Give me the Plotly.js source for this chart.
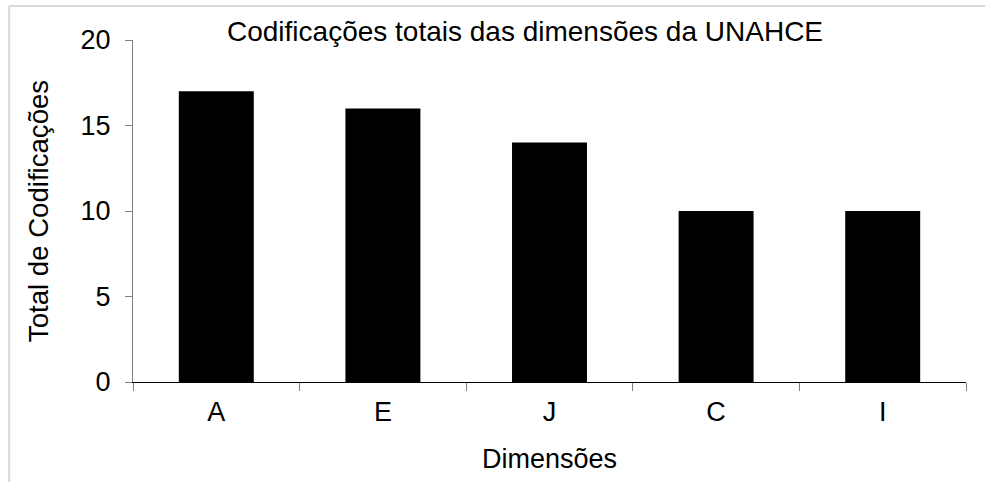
<!DOCTYPE html>
<html>
<head>
<meta charset="utf-8">
<script src="https://cdn.plot.ly/plotly-3.0.1.min.js"></script>
<style>html,body{margin:0;padding:0;background:#fff;}#chart{width:985px;height:482px;}</style>
</head>
<body>
<div id="chart"></div>
<script>
const categories = ["A", "E", "J", "C", "I"];
const values = [17, 16, 14, 10, 10];
const yTicks = [0, 5, 10, 15, 20];

const font = {family: "Liberation Sans, Arial, sans-serif", color: "#000"};

const data = [{
  type: "bar",
  x: categories,
  y: values,
  marker: {color: "#000", line: {color: "#000", width: 0}},
  hoverinfo: "none"
}];

const layout = {
  width: 985, height: 482,
  margin: {l: 133, r: 19, t: 40, b: 100},
  paper_bgcolor: "#fff", plot_bgcolor: "#fff",
  font: Object.assign({size: 27}, font),
  bargap: 0.55,
  showlegend: false,
  title: {text: "Codificações totais das dimensões da UNAHCE", font: Object.assign({size: 28}, font),
          x: 0.533, xanchor: "center", y: 0.935, yanchor: "middle", yref: "container"},
  xaxis: {
    type: "category",
    showline: true, linecolor: "#000", linewidth: 1.3,
    ticks: "outside", ticklen: 8, tickcolor: "#808080", tickwidth: 1,
    tickson: "boundaries",
    showgrid: false, zeroline: false,
    ticklabelstandoff: 5,
    tickfont: Object.assign({size: 27}, font),
    title: {text: "Dimensões", font: Object.assign({size: 27}, font), standoff: 23}
  },
  yaxis: {
    range: [0, 20],
    tickvals: yTicks,
    showline: true, linecolor: "#808080", linewidth: 1,
    ticks: "outside", ticklen: 7, tickcolor: "#808080", tickwidth: 1,
    showgrid: false, zeroline: false,
    ticklabelstandoff: 9,
    tickfont: Object.assign({size: 27}, font),
    title: {text: "Total de Codificações", font: Object.assign({size: 27.6}, font), standoff: 23}
  },
  shapes: [
    {type: "line", xref: "paper", yref: "paper", x0: -0.1487, x1: 1.1, y0: 1.0996, y1: 1.0996, line: {color: "#d9d9d9", width: 2}},
    {type: "line", xref: "paper", yref: "paper", x0: -0.1487, x1: -0.1487, y0: 1.0996, y1: -0.4, line: {color: "#d9d9d9", width: 2}}
  ]
};

Plotly.newPlot("chart", data, layout, {displayModeBar: false, staticPlot: true});
</script>
</body>
</html>
